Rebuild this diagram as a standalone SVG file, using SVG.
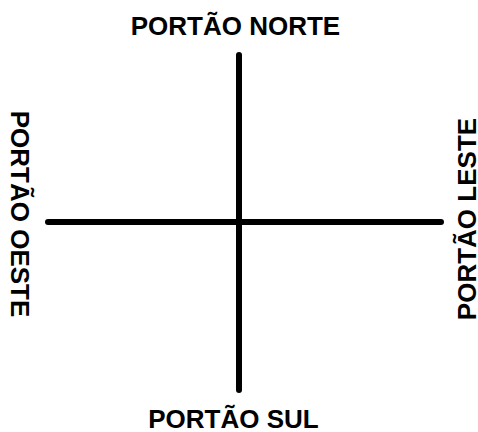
<svg xmlns="http://www.w3.org/2000/svg" width="478" height="432" viewBox="0 0 478 432">
<style>
.l{font-family:"Liberation Sans",Arial,sans-serif;font-weight:bold;font-size:26px;fill:#000;text-anchor:middle}
.c{stroke:#000;stroke-width:6;stroke-linecap:round;fill:none}
</style>
<rect width="478" height="432" fill="#fff"/>
<g id="connectors">
<line class="c" x1="239" y1="55" x2="239" y2="390"/>
<line class="c" x1="48" y1="222" x2="441" y2="222"/>
</g>
<g id="norte"><text class="l" x="235.500" y="35">PORTÃO NORTE</text></g>
<g id="sul"><text class="l" x="233.500" y="428">PORTÃO SUL</text></g>
<g id="leste"><text class="l" transform="translate(476 219) rotate(-90)">PORTÃO LESTE</text></g>
<g id="oeste"><text class="l" transform="translate(11 214) rotate(90)">PORTÃO OESTE</text></g>
</svg>
